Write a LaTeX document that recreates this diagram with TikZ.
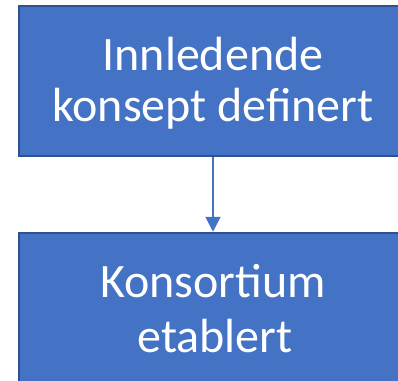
\documentclass[tikz,border=0pt]{standalone}
\usepackage{fontspec}
\setmainfont{Carlito}
\usetikzlibrary{arrows.meta}
\definecolor{boxfill}{HTML}{4472C4}
\definecolor{boxline}{HTML}{2F528F}
\tikzset{
  stepbox/.style={draw=boxline, fill=boxfill, line width=2.5pt,
    minimum width=390pt, minimum height=150pt, inner sep=0pt},
  lbl/.style={text=white, anchor=base, inner sep=0pt,
    font=\fontsize{48}{50}\selectfont},
  conn/.style={draw=boxfill, line width=2pt, -{Triangle[width=15pt,length=15pt]}}
}
\begin{document}
\begin{tikzpicture}[x=1pt,y=1pt]
\useasboundingbox (0,0) rectangle (398,-380);
\clip (0,0) rectangle (398,-380);
\node[stepbox] (a) at (214,-81) {};
\node[stepbox] (b) at (214,-308) {};
\node[lbl] (a1) at (213,-70) {Innledende};
\node[lbl] (a2) at (213,-121) {konsept definert};
\node[lbl] (b1) at (213,-297) {Konsortium};
\node[lbl] (b2) at (215,-352) {etablert};
\draw[conn] (a.south) ++(-1,0) coordinate (as) (as) -- (as |- b.north);
\end{tikzpicture}
\end{document}
